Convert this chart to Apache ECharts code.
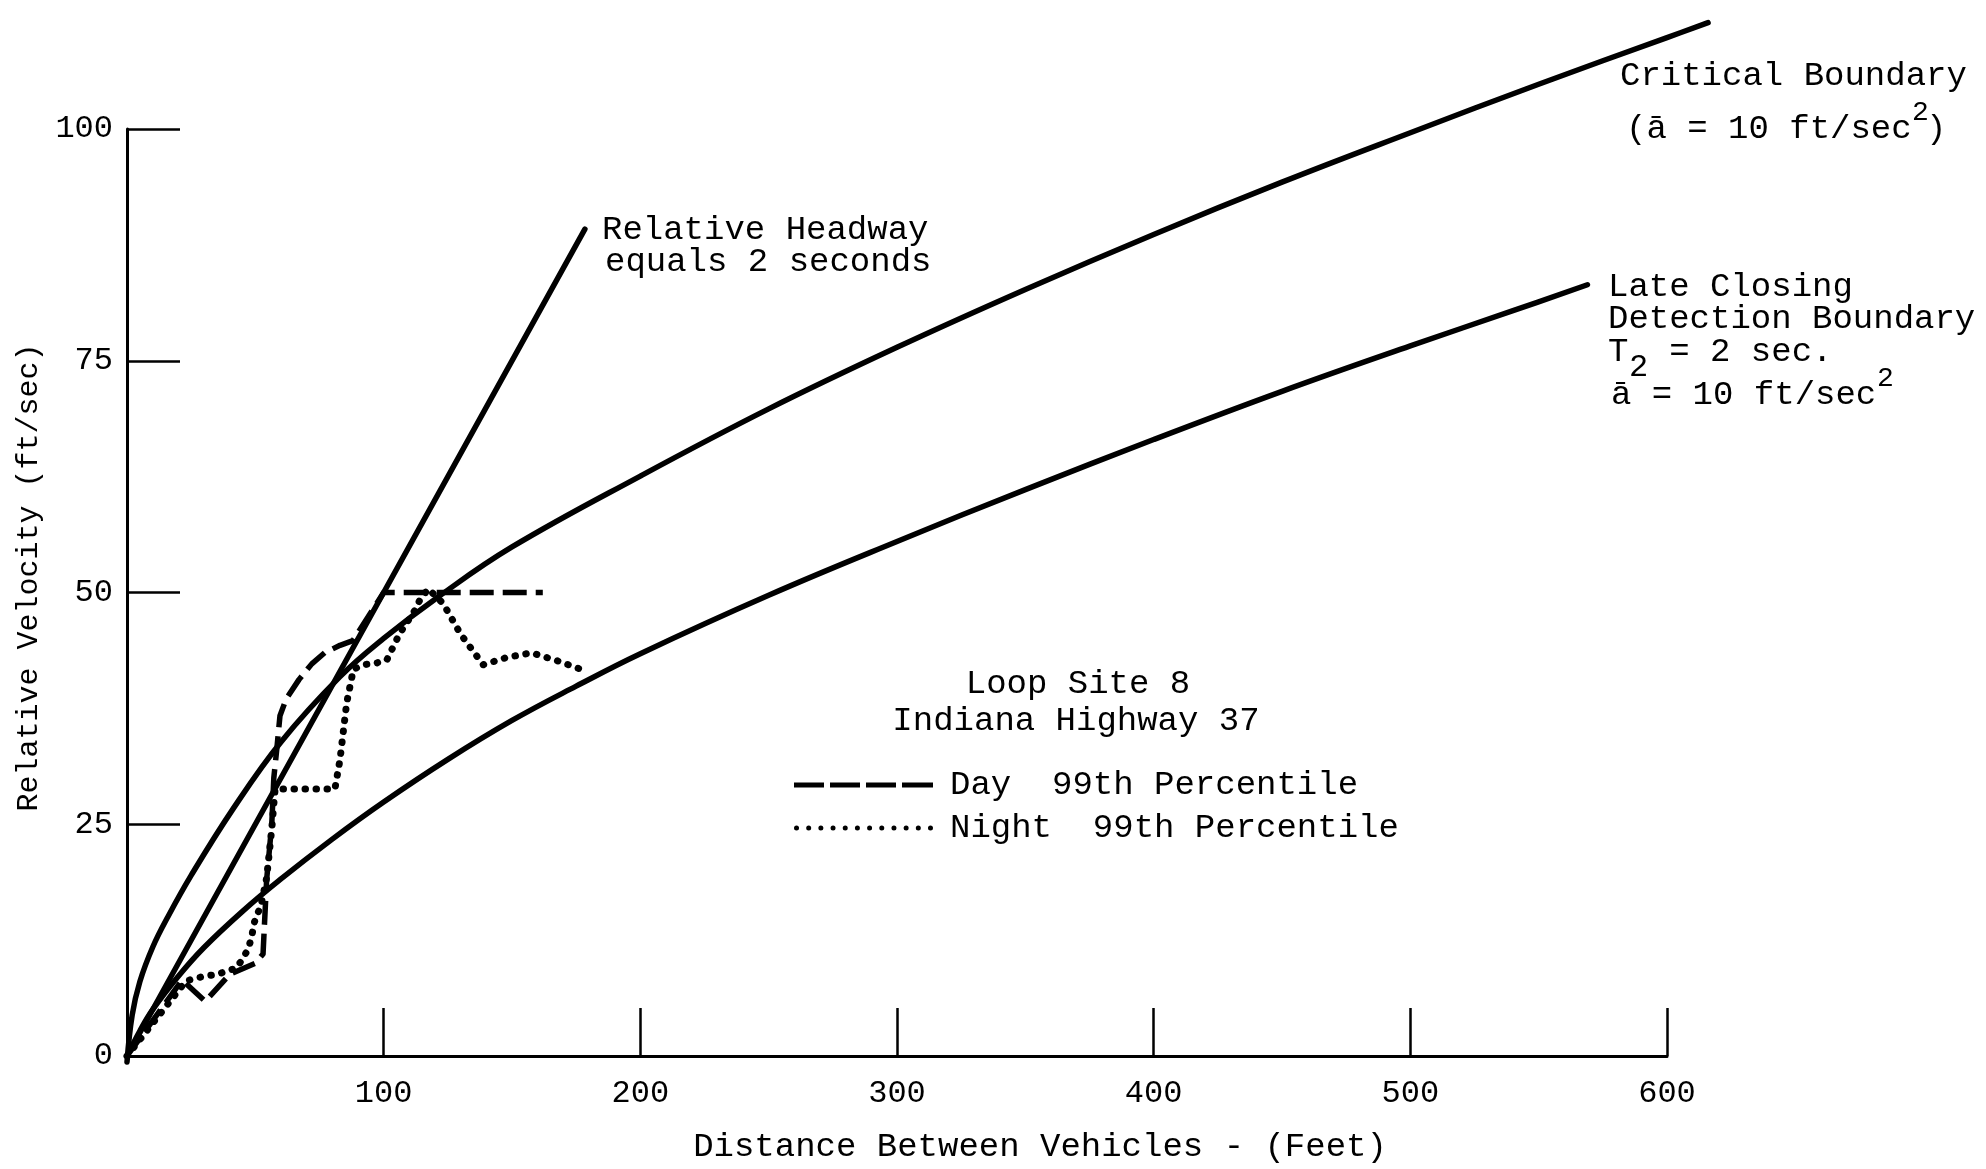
<!DOCTYPE html>
<html><head><meta charset="utf-8">
<script src="https://cdn.jsdelivr.net/npm/echarts@6/dist/echarts.min.js"></script>
<style>html,body{margin:0;padding:0;background:#fff}#c{width:1986px;height:1169px}</style>
</head><body><div id="c"></div>
<script>
// ---- axis ticks / labels ----
const xTicks = [0, 100, 200, 300, 400, 500, 600];
const xTickLabels = ['', '100', '200', '300', '400', '500', '600'];
const yTicks = [0, 25, 50, 75, 100];
const yTickLabels = ['0', '25', '50', '75', '100'];

// ---- Critical Boundary (a = 10 ft/sec^2) ----
const critD = [0, 2, 5, 10, 16, 25, 41, 60, 83, 100, 122, 150, 200, 250, 300, 350, 400, 450, 500, 550, 600, 616];
const critV = [0, 5, 8.6, 12.3, 15.6, 20, 27, 34.3, 41.3, 45.4, 50, 55.2, 62.8, 70, 76.6, 82.8, 88.7, 94.3, 99.6, 104.8, 109.8, 111.4];

// ---- Late Closing Detection Boundary ----
const lateD = [0, 5, 10, 20, 30, 45, 60, 80, 100, 125, 150, 175, 200, 250, 300, 350, 400, 450, 500, 540, 569];
const lateV = [0, 2.7, 5, 8.6, 11.7, 15.6, 19.1, 23.4, 27.4, 32, 36.2, 39.9, 43.4, 49.7, 55.5, 61.1, 66.5, 71.7, 76.6, 80.4, 83.2];

// ---- Relative Headway equals 2 seconds ----
const headD = [0, 178.4];
const headV = [0, 89.2];

// ---- Day 99th Percentile ----
const dayD = [0, 21.5, 30.5, 40, 50, 53, 54.4, 56.4, 57.2, 58.5, 59.6, 62, 67, 72, 77, 83, 88, 100, 162];
const dayV = [0, 8.2, 5.9, 8.8, 10, 11, 19, 25, 30, 33.5, 36.7, 38.5, 40.6, 42.3, 43.5, 44.3, 44.8, 50, 50];

// ---- Night 99th Percentile ----
const nightD = [0, 23, 30, 35, 42.7, 45.3, 47.3, 48.6, 49.5, 50.5, 52, 54.4, 56.4, 57.7, 81, 83, 85.6, 88.2, 92, 97.3, 101.2, 103.8, 106.3, 108.9, 112.2, 114.1, 117.4, 123.2, 130, 138.8, 148, 157.6, 168, 179];
const nightV = [0, 8.1, 8.6, 8.8, 9.5, 10.6, 11.6, 12.9, 14.3, 15.2, 16, 19.2, 24.5, 28.8, 28.8, 32, 38.1, 41.7, 42.2, 42.4, 42.7, 44.2, 45.6, 46.7, 48.1, 49.2, 50.4, 48.8, 45.5, 42.2, 43, 43.5, 42.6, 41.5];

const dayName = 'Day  99th Percentile';
const nightName = 'Night  99th Percentile';

const FONT = '"Liberation Mono", "Courier New", monospace';
const zip = (a, b) => a.map((v, i) => [v, b[i]]);

// plot geometry: x 0..600 over 1540 px starting at 127
const GL = 127, GW = 1540, XMAX = 600, XMAX_EXT = 620;
const extRight = 1986 - GL - GW * XMAX_EXT / XMAX;

const dashIcon = 'path://M0,0h30v5h-30zM36,0h30v5h-30zM72,0h30v5h-30zM108,0h31v5h-31z';
let dp = '';
for (let i = 0; i < 12; i++) {
  const cx = 2.5 + i * 12.18;
  dp += 'M' + (cx - 2.5).toFixed(2) + ',2.5a2.5,2.5 0 1,0 5,0a2.5,2.5 0 1,0 -5,0z';
}
const dotIcon = 'path://' + dp;

function txt(x, y, text, size, align) {
  return {
    type: 'text', x: x, y: y, silent: true,
    style: { text: text, fontFamily: FONT, fontSize: size || 34, fill: '#000', align: align || 'left', verticalAlign: 'middle' }
  };
}

const chart = echarts.init(document.getElementById('c'), null, { renderer: 'canvas' });
const solid = { color: '#000', width: 5.5, cap: 'round', join: 'round' };
const hiddenAxis = { show: false, axisLine: { show: false }, axisTick: { show: false }, axisLabel: { show: false }, splitLine: { show: false } };

chart.setOption({
  animation: false,
  backgroundColor: '#fff',
  textStyle: { fontFamily: FONT, color: '#000' },
  grid: [
    { left: GL, right: 1986 - GL - GW, top: 129, bottom: 107, containLabel: false },
    { left: GL, right: extRight, top: 129, bottom: 107, containLabel: false, show: false }
  ],
  xAxis: [{
    type: 'value', min: 0, max: XMAX, interval: 100, gridIndex: 0,
    name: 'Distance Between Vehicles - (Feet)', nameLocation: 'middle', nameGap: 74,
    nameTextStyle: { fontSize: 34, color: '#000', fontFamily: FONT, padding: [0, 0, 0, 286] },
    axisLine: { show: true, onZero: false, lineStyle: { color: '#000', width: 3 } },
    axisTick: { show: true, inside: true, length: 48, lineStyle: { color: '#000', width: 2.5 } },
    axisLabel: { fontSize: 32, color: '#000', fontFamily: FONT, margin: 22,
      formatter: v => { const i = xTicks.indexOf(v); return i >= 0 ? xTickLabels[i] : ''; } },
    splitLine: { show: false }
  }, Object.assign({ type: 'value', min: 0, max: XMAX_EXT, gridIndex: 1 }, hiddenAxis)],
  yAxis: [{
    type: 'value', min: 0, max: 100, interval: 25, gridIndex: 0,
    name: 'Relative Velocity (ft/sec)', nameLocation: 'middle', nameGap: 82,
    nameTextStyle: { fontSize: 30, color: '#000', fontFamily: FONT, padding: [0, 0, 0, 30] },
    axisLine: { show: true, onZero: false, lineStyle: { color: '#000', width: 3 } },
    axisTick: { show: true, inside: true, length: 53, lineStyle: { color: '#000', width: 2.5 } },
    axisLabel: { fontSize: 32, color: '#000', fontFamily: FONT, margin: 14,
      formatter: v => { const i = yTicks.indexOf(v); return i >= 0 ? yTickLabels[i] : ''; } },
    splitLine: { show: false }
  }, Object.assign({ type: 'value', min: 0, max: 100, interval: 25, gridIndex: 1 }, hiddenAxis)],
  legend: {
    data: [{ name: dayName, icon: dashIcon }, { name: nightName, icon: dotIcon }],
    orient: 'vertical', left: 794, top: 768, padding: 0, itemGap: 9,
    itemWidth: 139, itemHeight: 5, selectedMode: false,
    itemStyle: { borderWidth: 0, color: '#000' },
    textStyle: { fontSize: 34, color: '#000', fontFamily: FONT, lineHeight: 34, padding: [0, 0, 0, 12] }
  },
  series: [
    { name: 'Critical Boundary', type: 'line', xAxisIndex: 1, yAxisIndex: 1, data: zip(critD, critV), smooth: 0.4, symbol: 'none', clip: false, silent: true, lineStyle: solid, itemStyle: { color: '#000' } },
    { name: 'Late Closing Detection Boundary', type: 'line', data: zip(lateD, lateV), smooth: 0.4, symbol: 'none', clip: false, silent: true, lineStyle: solid, itemStyle: { color: '#000' } },
    { name: 'Relative Headway', type: 'line', data: zip(headD, headV), symbol: 'none', clip: false, silent: true, lineStyle: solid, itemStyle: { color: '#000' } },
    { name: dayName, type: 'line', data: zip(dayD, dayV), symbol: 'none', clip: false, silent: true,
      lineStyle: { color: '#000', width: 5.5, type: [24, 9], cap: 'butt', join: 'round' }, itemStyle: { color: '#000' } },
    { name: nightName, type: 'line', data: zip(nightD, nightV), symbol: 'none', clip: false, silent: true,
      lineStyle: { color: '#000', width: 7, type: [0.5, 10.5], cap: 'round', join: 'round' }, itemStyle: { color: '#000' } }
  ],
  graphic: [
    txt(1620, 76, 'Critical Boundary'),
    txt(1626, 129, '(ā = 10 ft/sec'),
    txt(1912, 113, '2', 28),
    txt(1926, 129, ')'),
    txt(602, 230, 'Relative Headway'),
    txt(605, 262, 'equals 2 seconds'),
    txt(1608, 287, 'Late Closing'),
    txt(1608, 319, 'Detection Boundary'),
    txt(1608, 352, 'T  = 2 sec.'),
    txt(1629, 368, '2', 32),
    txt(1611, 395, 'ā = 10 ft/sec'),
    txt(1877, 379, '2', 28),
    txt(1078, 684, 'Loop Site 8', 34, 'center'),
    txt(1076, 721, 'Indiana Highway 37', 34, 'center')
  ]
});
</script>
</body></html>
